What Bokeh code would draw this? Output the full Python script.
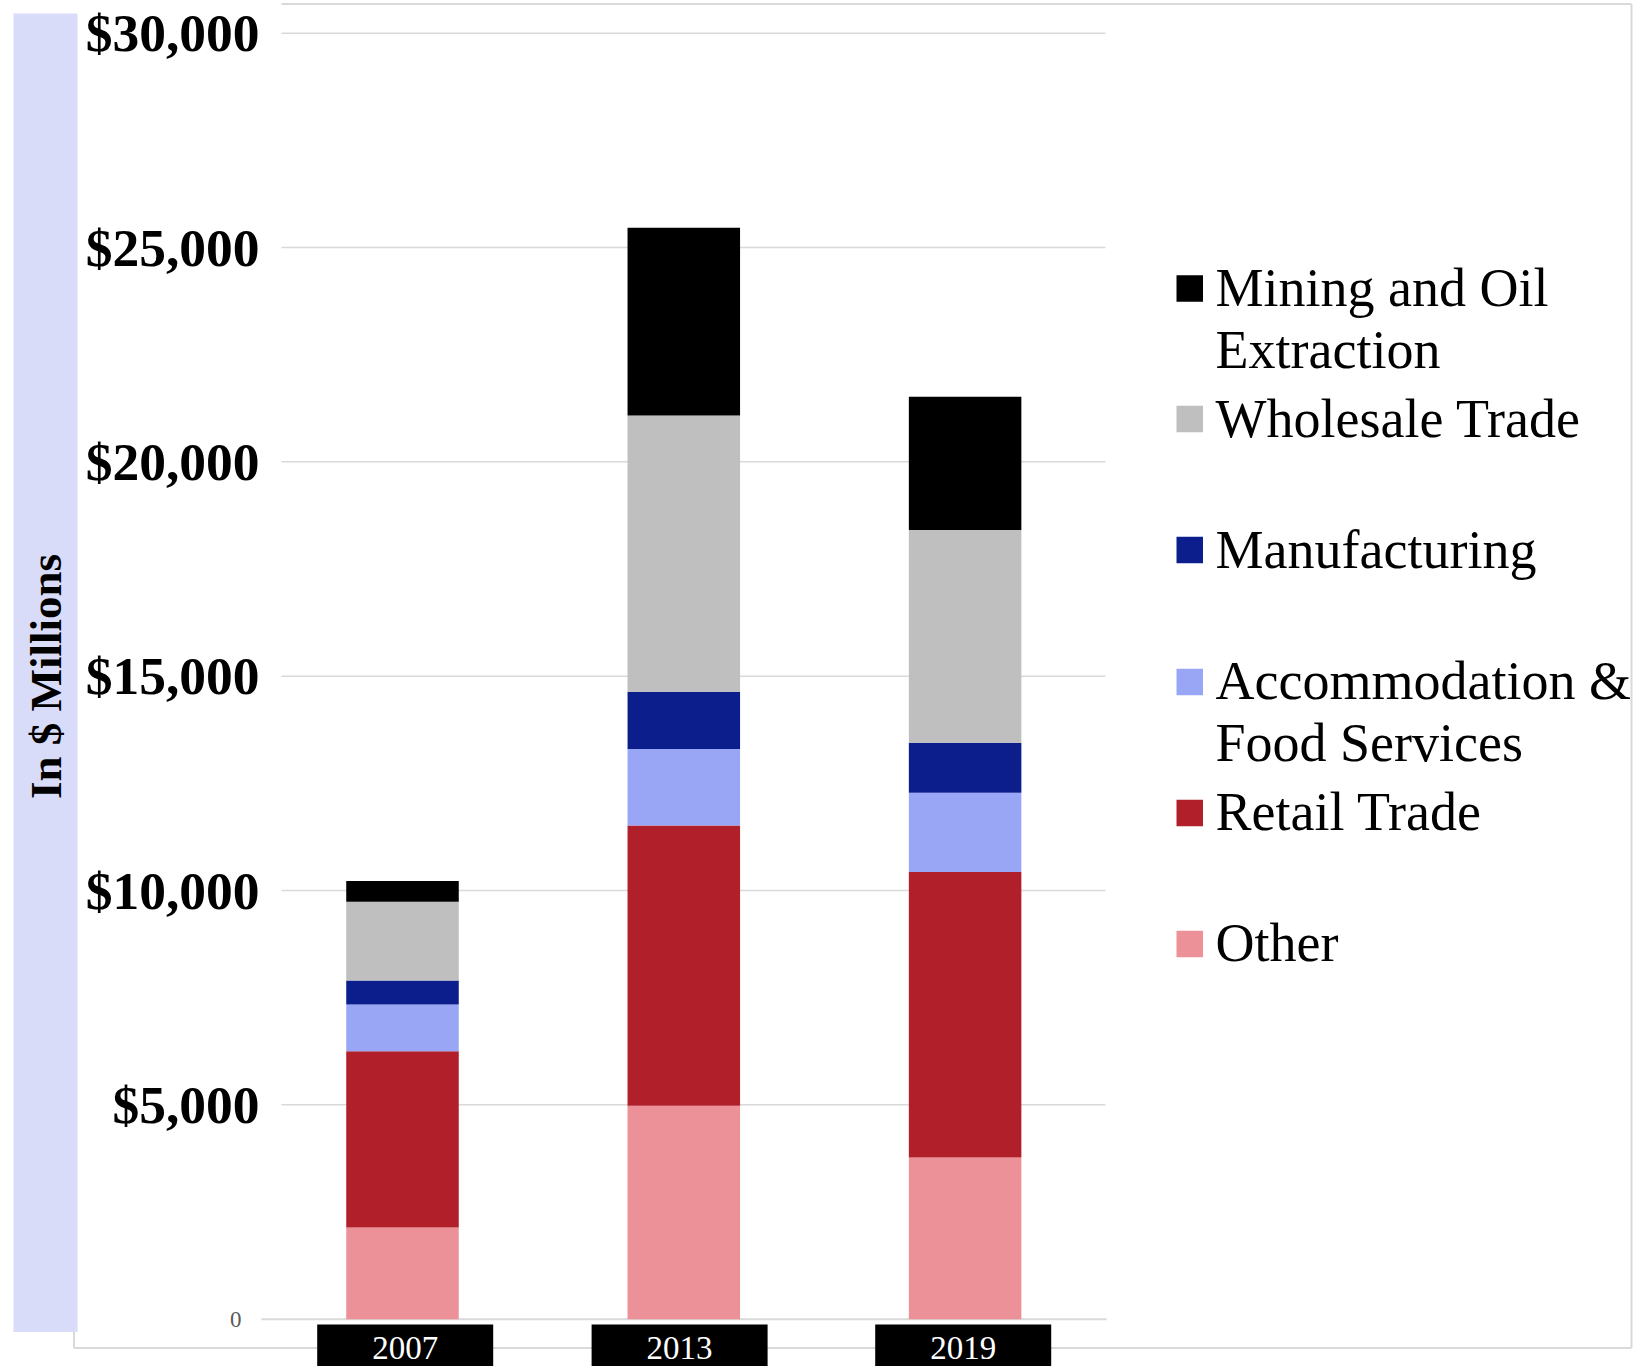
from math import pi
from bokeh.plotting import figure
from bokeh.models import ColumnDataSource, Range1d
from bokeh.core.properties import value
from bokeh.embed import file_html
from bokeh.resources import INLINE

# ---------------- data ----------------
years = ["2007", "2013", "2019"]
other = [2140, 4980, 3770]
retail = [4110, 6540, 6660]
accommodation = [1090, 1780, 1850]
manufacturing = [560, 1340, 1170]
wholesale = [1840, 6440, 4960]
mining = [480, 4380, 3110]

stack_keys = ["other", "retail", "accommodation", "manufacturing", "wholesale", "mining"]
stack_colors = ["#ed9198", "#b11f2b", "#98a6f5", "#0b1e8c", "#bfbfbf", "#000000"]
y_ticks = [5000, 10000, 15000, 20000, 25000, 30000]
y_tick_labels = ["$5,000", "$10,000", "$15,000", "$20,000", "$25,000", "$30,000"]

legend_keys = ["mining", "wholesale", "manufacturing", "accommodation", "retail", "other"]
legend_lines = [["Mining and Oil", "Extraction"], ["Wholesale Trade"], ["Manufacturing"],
                ["Accommodation &", "Food Services"], ["Retail Trade"], ["Other"]]
y_axis_title = "In $ Millions"

# ---------------- page-pixel -> data helpers (layout only) ----------------
PX_PER_CAT = 281.3          # pixels between category centres
X0_PX = 402.0               # page x of first category centre
Y0_PX = 1318.7              # page y of value 0
VAL_PER_PX = 30000 / 1286.0 # value units per pixel

def dx(px):
    return (px - X0_PX) / PX_PER_CAT

def dy(py):
    return (Y0_PX - py) * VAL_PER_PX

W, H = 1634, 1366
p = figure(width=W, height=H, output_backend="svg", toolbar_location=None,
           x_range=Range1d(dx(0), dx(W)), y_range=Range1d(dy(H), dy(0)),
           x_axis_location=None, y_axis_location=None, min_border=0)
p.outline_line_color = None
p.background_fill_color = "white"
p.border_fill_color = "white"
p.xgrid.visible = False
p.ygrid.visible = False

serif = value("Liberation Serif")
grid_col = "#d9d9d9"

# gridlines
p.segment(x0=dx(281), x1=dx(1105), y0=y_ticks, y1=y_ticks, line_color=grid_col, line_width=1.5)
p.segment(x0=[dx(261)], x1=[dx(1106)], y0=[0], y1=[0], line_color=grid_col, line_width=2)

# stacked bars
src = ColumnDataSource(dict(x=list(range(len(years))), other=other, retail=retail,
                            accommodation=accommodation, manufacturing=manufacturing,
                            wholesale=wholesale, mining=mining))
p.vbar_stack(stack_keys, x="x", width=0.4, fill_color=stack_colors, line_color=None, source=src)

# y tick labels
p.text(x=[dx(259)] * len(y_ticks), y=y_ticks, text=y_tick_labels,
       text_align="right", text_baseline="middle", text_font=serif,
       text_font_style="bold", text_font_size=value("53.5px"), text_color="black")
p.text(x=[dx(241)], y=[0], text=["0"], text_align="right", text_baseline="middle",
       text_font=serif, text_font_size=value("23px"), text_color="#595959")

# chart-area border
p.segment(x0=[dx(281), dx(1631), dx(73.5), dx(73.5)],
          x1=[dx(1631), dx(1631), dx(1631), dx(73.5)],
          y0=[dy(3.5), dy(3.5), dy(1347.5), dy(1331)],
          y1=[dy(3.5), dy(1347.5), dy(1347.5), dy(1347.5)],
          line_color=grid_col, line_width=2)

# blue side band + title
p.quad(left=[dx(13)], right=[dx(77)], top=[dy(13)], bottom=[dy(1331.5)],
       fill_color="#d9dcf8", line_color=None)
p.text(x=[dx(45)], y=[dy(676)], text=[y_axis_title], angle=pi / 2,
       text_align="center", text_baseline="alphabetic", text_font=serif,
       text_font_style="bold", text_font_size=value("45px"), text_color="black")

# category labels on black boxes
half_box = 88 / PX_PER_CAT
box_shift_px = [2.7, -4.2, -1.9]
xs = list(range(len(years)))
bx = [i + box_shift_px[i] / PX_PER_CAT for i in xs]
p.quad(left=[c - half_box for c in bx], right=[c + half_box for c in bx],
       top=[dy(1324)] * len(xs), bottom=[dy(1372)] * len(xs),
       fill_color="black", line_color=None)
p.text(x=bx, y=[dy(1347)] * len(xs), text=years, text_align="center",
       text_baseline="alphabetic", text_font=serif, text_font_size=value("33px"),
       text_color="white")

# legend
square_centers = [288, 418.5, 549.5, 681.5, 812.5, 943.5]
first_baselines = [287.5, 418.5, 549.5, 680.5, 811.5, 942.5]
line_gap = 61.5
sq_l, sq_r, sq_t, sq_b, sq_c = [], [], [], [], []
tx, ty, tt = [], [], []
for k, key in enumerate(legend_keys):
    c = square_centers[k]
    sq_l.append(dx(1176)); sq_r.append(dx(1202.5))
    sq_t.append(dy(c - 13.25)); sq_b.append(dy(c + 13.25))
    sq_c.append(stack_colors[stack_keys.index(key)])
    for j, line in enumerate(legend_lines[k]):
        tx.append(dx(1215)); ty.append(dy(first_baselines[k] + j * line_gap)); tt.append(line)
p.quad(left=sq_l, right=sq_r, top=sq_t, bottom=sq_b, fill_color=sq_c, line_color=None)
p.text(x=tx, y=ty, text=tt, text_align="left", text_baseline="alphabetic",
       text_font=serif, text_font_size=value("54px"), text_color="black")

open("out.html", "w").write(file_html(p, INLINE))
